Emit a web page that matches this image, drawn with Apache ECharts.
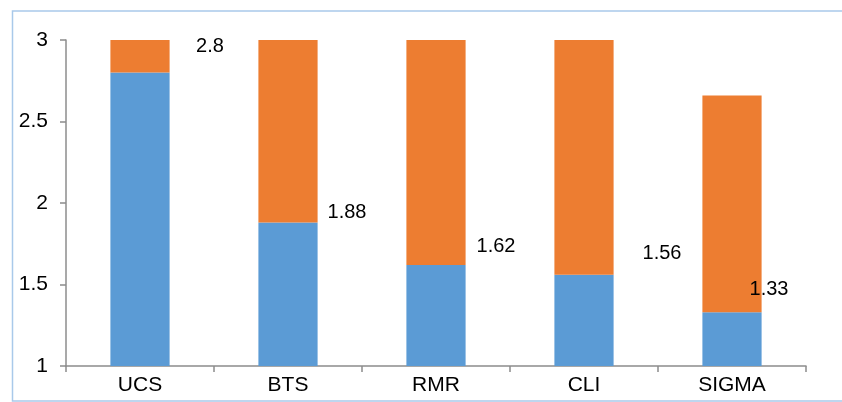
<!DOCTYPE html>
<html>
<head>
<meta charset="utf-8">
<script src="https://cdn.jsdelivr.net/npm/echarts@6/dist/echarts.min.js"></script>
<style>
  html, body { margin: 0; padding: 0; background: #fff; }
  #chart { width: 842px; height: 402px; }
</style>
</head>
<body>
<div id="chart"></div>
<script>
// Rock property indices per method
const categories = ['UCS', 'BTS', 'RMR', 'CLI', 'SIGMA'];
const baseValues = [2.8, 1.88, 1.62, 1.56, 1.33];
const upperValues = [2.8, 1.88, 1.62, 1.56, 1.33];
const yTicks = { min: 1, max: 3, step: 0.5 };

// Hand-placed value labels (offset from the top of each blue segment)
const labelOffsets = [[70, -26], [59, -10], [60, -18], [78, -21], [37, -23]];

const FONT = '"Liberation Sans", Arial, Helvetica, sans-serif';
const AXIS_GREY = '#8c8c8c';

const chart = echarts.init(document.getElementById('chart'), null, { renderer: 'canvas' });

const option = {
  animation: false,
  backgroundColor: '#ffffff',
  textStyle: { fontFamily: FONT },
  grid: { left: 66, right: 36, top: 40, bottom: 36, containLabel: false },
  graphic: [{
    type: 'rect',
    shape: { x: 12.5, y: 11, width: 845, height: 390 },
    style: { fill: 'none', stroke: '#a9c9ea', lineWidth: 1.5 },
    silent: true,
    z: -10
  }],
  xAxis: {
    type: 'category',
    data: categories,
    axisLine: { lineStyle: { color: AXIS_GREY, width: 1.5 } },
    axisTick: { show: true, length: 6, alignWithLabel: false, lineStyle: { color: AXIS_GREY, width: 1.5 } },
    axisLabel: { color: '#000', fontSize: 21, fontFamily: FONT, margin: 9 },
    splitLine: { show: false }
  },
  yAxis: {
    type: 'value',
    min: yTicks.min,
    max: yTicks.max,
    interval: yTicks.step,
    axisLine: { show: true, lineStyle: { color: AXIS_GREY, width: 1.5 } },
    axisTick: { show: true, length: 6, lineStyle: { color: AXIS_GREY, width: 1.5 } },
    axisLabel: { color: '#000', fontSize: 21, fontFamily: FONT, margin: 18 },
    splitLine: { show: false }
  },
  series: [
    {
      name: 'base',
      type: 'bar',
      stack: 'total',
      barWidth: '40%',
      itemStyle: { color: '#5b9bd5' },
      data: baseValues.map((v, i) => ({
        value: v,
        label: {
          show: true,
          position: ['50%', 0],
          offset: labelOffsets[i],
          align: 'center',
          verticalAlign: 'middle',
          color: '#000',
          fontSize: 20,
          fontFamily: FONT,
          formatter: String(v)
        }
      }))
    },
    {
      name: 'upper',
      type: 'bar',
      stack: 'total',
      barWidth: '40%',
      itemStyle: { color: '#ed7d31' },
      data: upperValues
    }
  ]
};

chart.setOption(option);
</script>
</body>
</html>
